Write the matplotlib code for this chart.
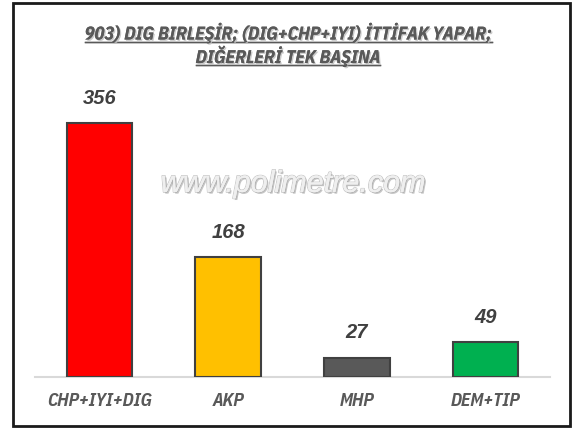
import matplotlib.pyplot as plt
import matplotlib.patheffects as pe
from matplotlib.lines import Line2D
from matplotlib.patches import Rectangle

# data
parties = ['CHP+IYI+DIG', 'AKP', 'MHP', 'DEM+TIP']
seats = [356, 168, 27, 49]
bar_colors = ['#FF0000', '#FFC000', '#595959', '#00B050']
title_lines = ['903) DIG BIRLEŞİR; (DIG+CHP+IYI) İTTİFAK YAPAR;', 'DIĞERLERİ TEK BAŞINA']

W, H = 572, 428
narrow = ['IBM Plex Sans Condensed', 'DejaVu Sans']
fig = plt.figure(figsize=(W / 100, H / 100), dpi=100)
fig.patch.set_facecolor('white')

# axes: baseline at y=377px, x from 35 to 550
ax = fig.add_axes([35 / W, (H - 377) / H, (550 - 35) / W, (377 - 80) / H])
ax.bar(range(len(parties)), seats, width=0.51, color=bar_colors,
       edgecolor='#404040', linewidth=1.5, zorder=3)
ax.set_xlim(-0.5, len(parties) - 0.5)
ax.set_ylim(0, 356 * 297 / 254)
for s in ['top', 'right', 'left']:
    ax.spines[s].set_visible(False)
ax.spines['bottom'].set_color('#D9D9D9')
ax.spines['bottom'].set_linewidth(1.5)
ax.set_yticks([])
ax.set_xticks(range(len(parties)))
ax.set_xticklabels(parties, fontsize=13, fontweight='bold', fontstyle='italic',
                   color='#595959', family=narrow)
ax.tick_params(axis='x', length=0, pad=11)
ax.patch.set_alpha(0)

for i, v in enumerate(seats):
    ax.annotate(str(v), (i, v), xytext=(0, 11), textcoords='offset points',
                ha='center', va='bottom', fontsize=14.5, fontweight='bold',
                fontstyle='italic', color='#404040', family=['Liberation Sans', 'DejaVu Sans'])

# watermark
fig.text(293 / W, 1 - 184 / H, 'www.polimetre.com', ha='center', va='center',
         fontsize=22, fontstyle='italic', color='#EFEFEF', family=['Liberation Sans', 'DejaVu Sans'],
         path_effects=[pe.withStroke(linewidth=1.2, foreground='#C8C8C8'),
                       pe.withSimplePatchShadow(offset=(1.2, -1.2), shadow_rgbFace='#A0A0A0', alpha=0.6),
                       pe.Normal()])

# title with underline
shadow = [pe.withSimplePatchShadow(offset=(1, -1), shadow_rgbFace='#BFBFBF', alpha=0.8), pe.Normal()]
title_y = [33, 56]
texts = []
for line, yy in zip(title_lines, title_y):
    t = fig.text(288 / W, 1 - yy / H, line, ha='center', va='center', fontsize=12,
                 fontweight='bold', fontstyle='italic', color='#595959',
                 family=narrow, path_effects=shadow)
    texts.append(t)

fig.canvas.draw()
renderer = fig.canvas.get_renderer()
# fit first title line to ~405 px wide
w0 = texts[0].get_window_extent(renderer).width
fs = 12 * 405 / w0
for t in texts:
    t.set_fontsize(fs)
fig.canvas.draw()
for t in texts:
    bb = t.get_window_extent(renderer)
    y0 = (bb.y0 + 2) / H
    fig.add_artist(Line2D([bb.x0 / W, bb.x1 / W], [y0, y0], color='#595959', lw=1.0,
                          path_effects=shadow))

# outer border
fig.add_artist(Rectangle((13 / W, 2 / H), (570 - 13) / W, (425 - 2) / H,
                         transform=fig.transFigure, fill=False, edgecolor='#1a1a1a', lw=2))

fig.savefig('out.png', dpi=100)
